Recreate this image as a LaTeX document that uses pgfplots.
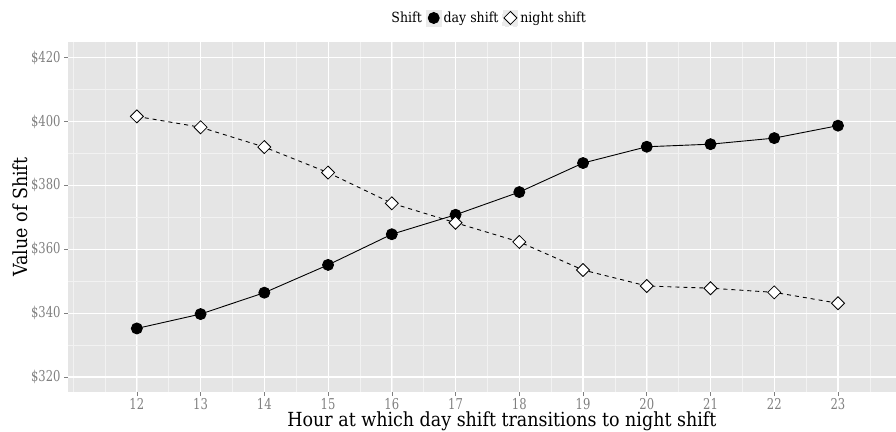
\documentclass[border=0pt]{standalone}
\usepackage{pgfplots}
\pgfplotsset{compat=1.18}
\usepackage{fontspec}
\setmainfont{DejaVu Serif Condensed}
\newfontfamily\tickfont{DejaVu Serif Condensed}[FakeStretch=0.86]
\definecolor{panel}{HTML}{E5E5E5}
\definecolor{minorgrid}{HTML}{F2F2F2}
\definecolor{tickgray}{HTML}{7F7F7F}
\definecolor{keybg}{HTML}{EBEBEB}
\pgfplotsset{
 keybox/.style={legend image code/.code={%
   \fill[keybg] (0bp,-8bp) rectangle (15bp,8bp);
   \draw[##1] plot coordinates {(7.5bp,0bp)};}}}
\begin{document}
\begin{tikzpicture}
\begin{axis}[name=ax, scale only axis, width=828bp, height=350bp,
 xmin=10.92, xmax=23.91, ymin=315.3, ymax=424.9,
 axis background/.style={fill=panel},
 axis line style={draw=none},
 xtick={12,...,23}, ytick={320,340,...,420},
 minor xtick={11,11.5,...,23.5}, minor ytick={310,330,...,430},
 grid=both,
 major grid style={white, line width=1.1bp},
 minor grid style={minorgrid, line width=0.5bp},
 tick align=outside, major tick length=4bp, minor tick length=0pt,
 tick style={tickgray, line width=0.6bp},
 xtick pos=bottom, ytick pos=left,
 /pgf/number format/assume math mode=true,
 ticklabel style={color=tickgray, font=\tickfont\fontsize{15}{15}\selectfont},
 xticklabel style={inner sep=2bp},
 yticklabel={\$\pgfmathprintnumber{\tick}},
 xlabel={Hour at which day shift transitions to night shift},
 ylabel={Value of Shift},
 label style={font=\fontsize{19.5}{19.5}\selectfont},
 xlabel style={at={(axis description cs:0.524,-0.083)}, anchor=center},
 ylabel style={at={(axis description cs:-0.058,0.5)}, anchor=center},
 legend style={at={(axis description cs:0.508,1.0686)}, anchor=center,
   draw=none, fill=none, legend columns=-1,
   font=\fontsize{14}{14}\selectfont,
   /tikz/every even column/.append style={column sep=2bp}},
]
\addlegendimage{empty legend}
\addlegendentry{Shift}
\addplot[black, line width=0.9bp, mark=*, mark size=5.5bp, keybox] coordinates {
 (12,335.2) (13,339.7) (14,346.4) (15,355.1) (16,364.7) (17,370.8)
 (18,377.9) (19,387.0) (20,392.1) (21,392.9) (22,394.8) (23,398.7)};
\addlegendentry{day shift}
\addplot[black, line width=0.9bp, dash pattern=on 4bp off 4bp, mark=square*,
 mark size=4.6bp, mark options={rotate=45, fill=white, solid, line width=0.8bp}, keybox] coordinates {
 (12,401.6) (13,398.2) (14,392.0) (15,384.0) (16,374.4) (17,368.3)
 (18,362.3) (19,353.5) (20,348.5) (21,347.8) (22,346.5) (23,343.1)};
\addlegendentry{night shift}
\end{axis}
\pgfresetboundingbox
\path[use as bounding box] ([xshift=-68bp,yshift=-40bp]ax.south west) rectangle ([yshift=42bp]ax.north east);
\end{tikzpicture}
\end{document}
